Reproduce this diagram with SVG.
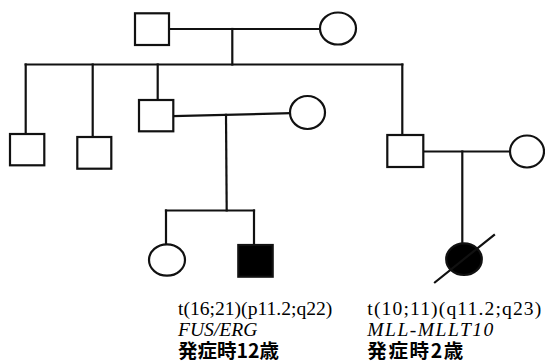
<svg xmlns="http://www.w3.org/2000/svg" width="545" height="364" viewBox="0 0 545 364">
<style>
.ln{fill:none;stroke:#111;stroke-width:2.2;stroke-linecap:square}
.nd{fill:#fff;stroke:#111;stroke-width:2.2}
.af{fill:#000;stroke:#111;stroke-width:2.2}
.t{font-family:"Liberation Serif","Times New Roman",serif;font-size:19.6px;fill:#000}
.i{font-style:italic}
.j{font-family:"Noto Sans CJK JP","Noto Sans CJK SC",sans-serif;font-weight:bold;font-size:19.5px;fill:#000}
</style>
<rect width="545" height="364" fill="#fff"/>
<g id="connectors">
<line class="ln" x1="169" y1="29" x2="320" y2="29"/>
<line class="ln" x1="232.3" y1="29" x2="232.3" y2="64.5"/>
<line class="ln" x1="25.7" y1="64.5" x2="402.3" y2="64.5"/>
<line class="ln" x1="25.7" y1="64.5" x2="25.7" y2="134"/>
<line class="ln" x1="92.7" y1="64.5" x2="92.7" y2="137"/>
<line class="ln" x1="157.7" y1="64.5" x2="157.7" y2="100"/>
<line class="ln" x1="402.3" y1="64.5" x2="402.3" y2="135"/>
<line class="ln" x1="173.3" y1="116.2" x2="290" y2="113.2"/>
<line class="ln" x1="226" y1="114.9" x2="226.7" y2="210.5"/>
<line class="ln" x1="166" y1="210.5" x2="254" y2="210.5"/>
<line class="ln" x1="166" y1="210.5" x2="166" y2="244.3"/>
<line class="ln" x1="254" y1="210.5" x2="254" y2="245"/>
<line class="ln" x1="423.3" y1="151.5" x2="510" y2="151.5"/>
<line class="ln" x1="462.3" y1="151.5" x2="462.3" y2="243.3"/>
</g>
<g id="grandfather"><rect class="nd" x="135" y="13.3" width="34" height="31.7"/></g>
<g id="grandmother"><ellipse class="nd" cx="338" cy="28.5" rx="18" ry="16"/></g>
<g id="uncle1"><rect class="nd" x="10" y="134" width="34.3" height="31.3"/></g>
<g id="uncle2"><rect class="nd" x="77.3" y="137" width="34" height="31.7"/></g>
<g id="father1"><rect class="nd" x="139" y="100" width="34.3" height="31.3"/></g>
<g id="mother1"><ellipse class="nd" cx="307.5" cy="112.5" rx="17.5" ry="16.5"/></g>
<g id="father2"><rect class="nd" x="387.3" y="135" width="36" height="32"/></g>
<g id="mother2"><ellipse class="nd" cx="527" cy="151.5" rx="17" ry="16"/></g>
<g id="sister"><ellipse class="nd" cx="167" cy="260" rx="18" ry="15.7"/></g>
<g id="proband1">
<rect class="af" x="238.3" y="245" width="34.4" height="31.7"/>
<text class="t" x="178" y="314.5">t(16;21)(p11.2;q22)</text>
<text class="t i" x="178" y="336.3">FUS/ERG</text>
<text class="j" x="178" y="357.5">発症時12歳</text>
</g>
<g id="proband2">
<ellipse class="af" cx="464" cy="259.2" rx="17.8" ry="15.8"/>
<line class="ln" x1="435" y1="282.3" x2="494" y2="235" stroke-linecap="butt"/>
<text class="t" x="367.3" y="314.5" textLength="174" lengthAdjust="spacing">t(10;11)(q11.2;q23)</text>
<text class="t i" x="367.3" y="336.3" textLength="126" lengthAdjust="spacing">MLL-MLLT10</text>
<text class="j" x="367.3" y="357.5" textLength="96" lengthAdjust="spacing">発症時2歳</text>
</g>
</svg>
